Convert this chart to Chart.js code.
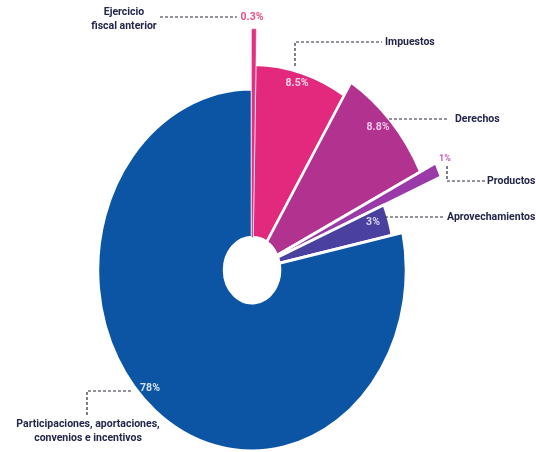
<!DOCTYPE html>
<html lang="es">
<head>
    <meta charset="UTF-8">
    <title>Ingresos por fuente</title>
    <script src="https://cdn.jsdelivr.net/npm/chart.js"></script>
    <style>
        html, body {
            margin: 0;
            padding: 0;
            background: #fff;
        }
        #ingresos-chart {
            display: block;
        }
    </style>
</head>
<body>
    <canvas id="ingresos-chart" width="536" height="452"></canvas>

    <script>
        // Data
        const categories = [
            ["Ejercicio", "fiscal anterior"],
            "Impuestos",
            "Derechos",
            "Productos",
            "Aprovechamientos",
            ["Participaciones, aportaciones,", "convenios e incentivos"]
        ];
        const percentages = [0.3, 8.5, 8.8, 1, 3, 78];

        // Styling
        const sliceColors = ["#e3307f", "#e2297d", "#b2328f", "#9a3aa8", "#4a409f", "#0b55a4"];
        const sliceBorders = ["#e3307f", "#fff", "#fff", "#fff", "#fff", "#fff"];
        const sliceBorderWidth = [0.6, 2.5, 2.5, 2.5, 2.5, 2.5];
        const sliceRadius = [205, 175, 188, 205, 143, 154];   // outer radius, px
        const drawOrder = [1, 2, 3, 4, 5, 0];                 // thin slice last so it stays visible
        const vStretch = 1.175;                               // the original is taller than wide

        // Annotation layout (label text, % position, dashed leader)
        const labelLayout = [
            { x: 124, y: 12, align: "center", pct: [252, 17], pctColor: "#e84d8c", leader: [[160, 17], [237, 17]] },
            { x: 385, y: 42, align: "left", pct: [297, 83], pctColor: "#f9d2e5", leader: [[295, 66], [295, 42], [382, 42]] },
            { x: 455, y: 119, align: "left", pct: [378, 127], pctColor: "#f1c8e6", leader: [[389, 119], [449, 119]] },
            { x: 487, y: 181, align: "left", pct: [445, 159], pctColor: "#c460b8", pctSize: 9, leader: [[447, 166], [447, 181], [485, 181]] },
            { x: 447, y: 217, align: "left", pct: [373, 222], pctColor: "#d8d5f3", leader: [[385, 217], [443, 217]] },
            { x: 88, y: 424, align: "center", pct: [150, 388], pctColor: "#d3e3f6", leader: [[131, 391], [87, 391], [87, 415]] }
        ];

        const fontFamily = "Roboto, 'Liberation Sans', sans-serif";

        // Per-slice radius and vertical stretch, drawn through the arc elements
        const shapePlugin = {
            id: "shape",
            afterDatasetsUpdate(chart) {
                const meta = chart.getDatasetMeta(0);
                meta.data.forEach((arc, i) => {
                    arc.outerRadius = sliceRadius[i];
                });
            },
            beforeDatasetDraw(chart, args) {
                const ctx = chart.ctx;
                const arcs = args.meta.data;
                const cx = arcs[0].x;
                const cy = arcs[0].y;
                ctx.save();
                ctx.translate(cx, cy);
                ctx.scale(1, vStretch);
                ctx.translate(-cx, -cy);
                drawOrder.forEach(i => arcs[i].draw(ctx, chart.chartArea));
                ctx.restore();
                return false;
            }
        };

        // Labels with dashed leader lines
        const labelPlugin = {
            id: "labels",
            afterDatasetsDraw(chart) {
                const ctx = chart.ctx;
                const labels = chart.data.labels;
                const values = chart.data.datasets[0].data;
                ctx.save();
                labelLayout.forEach((lay, i) => {
                    // leader
                    ctx.strokeStyle = "#2a2a3a";
                    ctx.lineWidth = 1.2;
                    ctx.setLineDash([3, 2]);
                    ctx.beginPath();
                    lay.leader.forEach((p, k) => k ? ctx.lineTo(p[0], p[1]) : ctx.moveTo(p[0], p[1]));
                    ctx.stroke();
                    ctx.setLineDash([]);

                    // category name
                    const lines = Array.isArray(labels[i]) ? labels[i] : [labels[i]];
                    ctx.fillStyle = "#23264a";
                    ctx.font = "bold 10.5px " + fontFamily;
                    ctx.textAlign = lay.align;
                    ctx.textBaseline = "middle";
                    lines.forEach((t, k) => ctx.fillText(t, lay.x, lay.y + k * 14));

                    // percentage
                    ctx.fillStyle = lay.pctColor;
                    ctx.font = "bold " + (lay.pctSize || 10.5) + "px " + fontFamily;
                    ctx.textAlign = "center";
                    ctx.fillText(values[i] + "%", lay.pct[0], lay.pct[1]);
                });
                ctx.restore();
            }
        };

        const ctx = document.getElementById("ingresos-chart").getContext("2d");
        new Chart(ctx, {
            type: "doughnut",
            data: {
                labels: categories,
                datasets: [{
                    data: percentages,
                    backgroundColor: sliceColors,
                    borderColor: sliceBorders,
                    borderWidth: sliceBorderWidth
                }]
            },
            options: {
                responsive: false,
                animation: false,
                events: [],
                cutout: 28,
                rotation: 0,
                layout: {
                    padding: { left: 0, right: 32, top: 88, bottom: 0 }
                },
                plugins: {
                    legend: { display: false },
                    tooltip: { enabled: false }
                }
            },
            plugins: [shapePlugin, labelPlugin]
        });
    </script>
</body>
</html>
